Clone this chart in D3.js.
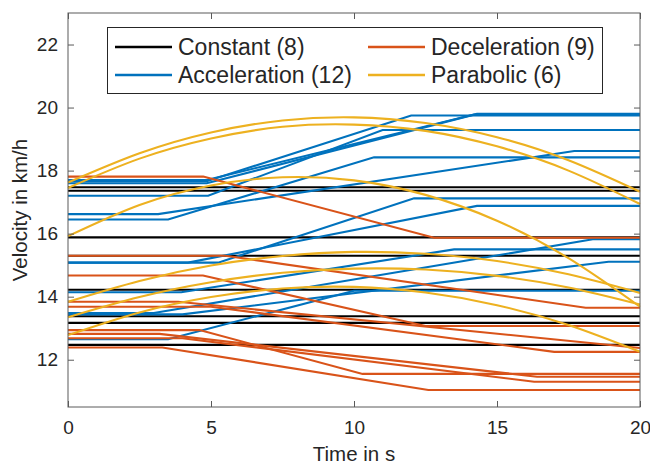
<!DOCTYPE html>
<meta charset="utf-8">
<style>
body { margin: 0; background: #fff; }
text { font-family: "Liberation Sans", Arial, sans-serif; fill: #262626; }
.tick text { font-size: 19px; }
.lbl { font-size: 20.5px; }
.leg text { font-size: 23px; }
</style>
<svg width="650" height="465"></svg>
<script src="https://d3js.org/d3.v7.min.js"></script>
<script>
// ---- data ----
var xTicks = [0, 5, 10, 15, 20];
var yTicks = [12, 14, 16, 18, 20, 22];

// constant velocity (km/h)
var constVals = [17.47, 17.36, 15.88, 15.30, 14.22, 13.38, 13.17, 12.47];

// acceleration: [start value, ramp start t, ramp end t, end value]
var accelRuns = [
  [17.70, 4.85, 14.2, 19.78],
  [17.66, 4.85, 12.0, 19.75],
  [17.60, 4.85, 14.3, 19.80],
  [17.20, 4.90, 11.0, 19.29],
  [16.62, 3.15, 17.7, 18.62],
  [16.45, 3.50, 10.7, 18.42],
  [15.08, 5.25, 12.1, 17.12],
  [15.08, 4.20, 14.3, 16.88],
  [14.14, 3.96, 13.5, 15.50],
  [13.48, 3.00, 18.35, 15.82],
  [13.44, 4.00, 18.9, 15.11],
  [12.65, 3.50, 10.0, 14.19]
];

// deceleration: [start value, ramp start t, ramp end t, end value]
var decelRuns = [
  [17.81, 4.73, 12.8, 15.87],
  [15.30, 5.50, 18.1, 13.65],
  [14.67, 4.72, 12.5, 13.07],
  [13.84, 3.85, 20.0, 12.37],
  [13.68, 5.00, 17.0, 12.25],
  [12.94, 4.60, 10.3, 11.55],
  [12.82, 3.20, 16.4, 11.46],
  [12.68, 4.00, 16.3, 11.30],
  [12.39, 3.30, 12.6, 11.04]
];

// parabolic: values at paraT
var paraT = [0, 2.5, 5, 7.5, 10, 12.5, 15, 17.5, 20];
var paraVals = [
  [17.62, 18.55, 19.21, 19.59, 19.69, 19.51, 19.06, 18.33, 17.33],
  [17.45, 18.38, 19.02, 19.39, 19.46, 19.26, 18.77, 18.00, 16.94],
  [15.92, 16.91, 17.53, 17.79, 17.69, 17.23, 16.41, 15.22, 13.68],
  [13.84, 14.50, 14.99, 15.29, 15.42, 15.36, 15.13, 14.71, 14.12],
  [13.35, 13.99, 14.46, 14.76, 14.89, 14.86, 14.66, 14.29, 13.75],
  [12.78, 13.50, 13.99, 14.26, 14.31, 14.13, 13.73, 13.10, 12.25]
];

var legendItems = [
  {name: "Constant (8)", color: "#000000"},
  {name: "Acceleration (12)", color: "#0072BD"},
  {name: "Deceleration (9)", color: "#D95319"},
  {name: "Parabolic (6)", color: "#EDB120"}
];

// ---- drawing ----
var svg = d3.select("svg"),
    margin = {top: 13, right: 10, bottom: 58, left: 68},
    width = +svg.attr("width") - margin.left - margin.right,
    height = +svg.attr("height") - margin.top - margin.bottom;

var g = svg.append("g").attr("transform", "translate(" + margin.left + "," + margin.top + ")");
var x = d3.scaleLinear().domain([0, 20]).range([0, width]);
var y = d3.scaleLinear().domain([10.5, 23]).range([height, 0]);

var line = d3.line().x(function(d) { return x(d[0]); }).y(function(d) { return y(d[1]); });
var curve = d3.line().curve(d3.curveNatural)
    .x(function(d) { return x(d[0]); }).y(function(d) { return y(d[1]); });

function runPts(r) { return [[0, r[0]], [r[1], r[0]], [r[2], r[3]], [20, r[3]]]; }

var plot = g.append("g").attr("fill", "none").attr("stroke-width", 2.1);

plot.selectAll(".const").data(constVals).enter().append("path")
    .attr("stroke", "#000").attr("d", function(v) { return line([[0, v], [20, v]]); });
plot.selectAll(".acc").data(accelRuns).enter().append("path")
    .attr("stroke", "#0072BD").attr("d", function(r) { return line(runPts(r)); });
plot.selectAll(".dec").data(decelRuns).enter().append("path")
    .attr("stroke", "#D95319").attr("d", function(r) { return line(runPts(r)); });
plot.selectAll(".par").data(paraVals).enter().append("path")
    .attr("stroke", "#EDB120").attr("d", function(vs) {
      return curve(vs.map(function(v, i) { return [paraT[i], v]; }));
    });

// axes (ticks inside, box on)
var axCol = "#5a5a5a";
var xa = g.append("g").attr("transform", "translate(0," + height + ")")
    .call(d3.axisBottom(x).tickValues(xTicks).tickSizeInner(-6).tickSizeOuter(0).tickPadding(14));
var ya = g.append("g")
    .call(d3.axisLeft(y).tickValues(yTicks).tickSizeInner(-6).tickSizeOuter(0).tickPadding(10));
var xt = g.append("g")
    .call(d3.axisTop(x).tickValues(xTicks).tickSizeInner(-6).tickSizeOuter(0).tickFormat(""));
var yr = g.append("g").attr("transform", "translate(" + width + ",0)")
    .call(d3.axisRight(y).tickValues(yTicks).tickSizeInner(-6).tickSizeOuter(0).tickFormat(""));
[xa, ya, xt, yr].forEach(function(a) {
  a.select(".domain").remove();
  a.selectAll("line").attr("stroke", axCol);
  a.selectAll("text").attr("fill", "#262626").style("font-family", "Liberation Sans, Arial, sans-serif");
});
g.append("rect").attr("width", width).attr("height", height)
    .attr("fill", "none").attr("stroke", axCol).attr("stroke-width", 1);

svg.append("text").attr("class", "lbl").attr("text-anchor", "middle")
    .attr("x", margin.left + width / 2).attr("y", 461).text("Time in s");
svg.append("text").attr("class", "lbl").attr("text-anchor", "middle")
    .attr("transform", "translate(27," + (margin.top + height / 2) + ") rotate(-90)")
    .text("Velocity in km/h");

// legend
var leg = svg.append("g").attr("class", "leg");
leg.append("rect").attr("x", 107.5).attr("y", 27.5).attr("width", 495).attr("height", 66)
    .attr("fill", "#fff").attr("stroke", "#262626").attr("stroke-width", 1);
var item = leg.selectAll(".item").data(legendItems).enter().append("g")
    .attr("transform", function(d, i) {
      return "translate(" + (i < 2 ? 115 : 368) + "," + (i % 2 === 0 ? 47 : 75) + ")";
    });
item.append("line").attr("x1", 0).attr("x2", 57)
    .attr("stroke", function(d) { return d.color; }).attr("stroke-width", 2.4);
item.append("text").attr("x", 63).attr("dy", "0.35em").text(function(d) { return d.name; });
</script>
